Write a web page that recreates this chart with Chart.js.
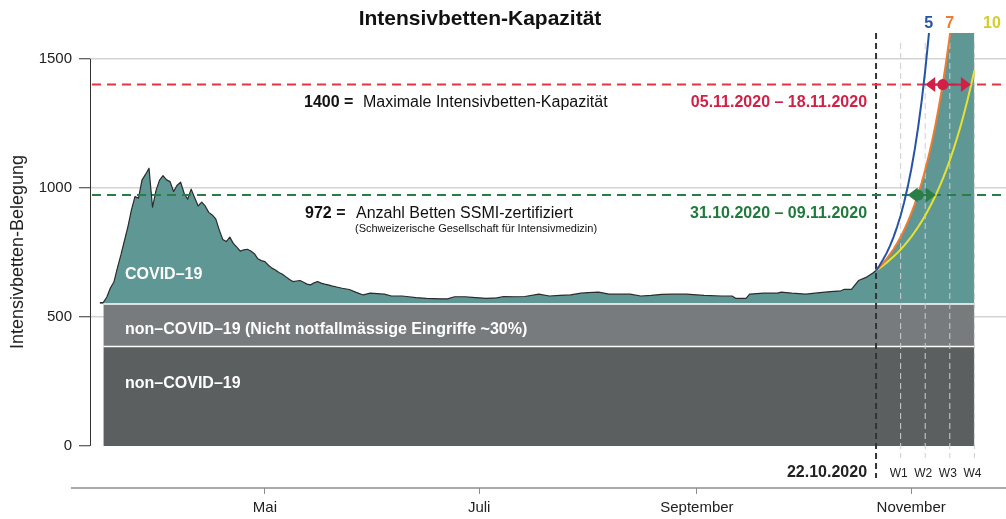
<!DOCTYPE html>
<html>
<head>
<meta charset="utf-8">
<script src="https://cdn.jsdelivr.net/npm/chart.js@4.4.0/dist/chart.umd.min.js"></script>
<style>
  html, body { margin: 0; padding: 0; background: #fff; }
  #wrap { width: 1006px; height: 519px; }
</style>
</head>
<body>
<div id="wrap"><canvas id="icuChart" width="1006" height="519"></canvas></div>
<script>
// =============== DATA ===============
// x = Tag im Jahr 2020 (1. Jan = 0), y = belegte Intensivbetten
const covidDays = [74, 75, 76, 77, 78, 79, 80, 81, 82, 83, 84, 85, 86, 87, 88, 89, 90, 91, 92, 93, 94, 95, 96, 97, 98, 99,
  100, 101, 102, 103, 104, 105, 106, 107, 108, 109, 110, 111, 112, 113, 114, 115, 116, 117, 118, 119, 120, 121, 122, 123,
  124, 125, 126, 127, 128, 129, 130, 131, 132, 133, 134, 135, 136, 137, 138, 139, 140, 142, 143, 145, 147, 149, 151, 153,
  155, 157, 160, 162, 164, 167, 171, 173, 175, 178, 180, 184, 187, 189, 192, 195, 199, 202, 205, 208, 211, 213, 216, 219,
  222, 225, 228, 231, 234, 237, 241, 244, 246, 251, 254, 255, 258, 259, 263, 267, 268, 271, 275, 279, 282, 285, 286, 288,
  290, 292, 294, 295];
const covidBeds = [555, 556, 577, 612, 635, 690, 740, 795, 850, 915, 966, 960, 1030, 1052, 1076, 925, 990, 1030, 1047, 1031,
  1024, 986, 1010, 1022, 979, 956, 995, 962, 930, 945, 930, 905, 895, 880, 837, 800, 792, 809, 785, 770, 755, 760, 762, 755,
  745, 725, 718, 714, 700, 689, 682, 672, 665, 655, 645, 637, 639, 641, 634, 627, 624, 632, 637, 631, 627, 624, 620, 614,
  611, 606, 595, 585, 592, 590, 588, 581, 581, 578, 575, 572, 570, 570, 578, 578, 576, 572, 574, 579, 578, 579, 588, 581,
  583, 585, 592, 594, 596, 588, 588, 588, 581, 583, 587, 588, 588, 585, 583, 581, 581, 572, 572, 588, 592, 592, 596, 592,
  588, 594, 598, 601, 607, 607, 641, 652, 669, 680];

// Prognosen ab 22.10.2020 (Verdopplungszeit 5, 7, 10 Tage)
const projDays = [295, 296, 297, 298, 299, 300, 301, 302, 303, 304, 305, 306, 307, 308, 309, 310, 311, 312, 313, 314,
  315, 316, 317, 318, 319, 320, 321, 322, 323];
const proj5 = [680, 699, 722, 747, 776, 810, 849, 893, 944, 1003, 1070, 1147, 1236, 1338, 1455, 1590, 1745];
const proj7 = [680, 694, 708, 725, 743, 763, 785, 810, 837, 867, 900, 936, 977, 1021, 1070, 1124, 1184, 1250, 1323,
  1403, 1492, 1590, 1698, 1818, 1950, 2095, 2256, 2434, 2630];
const proj10 = [680, 689, 699, 710, 722, 734, 747, 761, 776, 793, 810, 829, 849, 870, 893, 918, 944, 972, 1003, 1035,
  1070, 1107, 1147, 1190, 1236, 1285, 1338, 1395, 1455];
const projLabels = ['5', '7', '10'];
const projLabelDays = [310, 316, 328];

// nicht-COVID Belegung
const bandDays = [75, 323];
const nonCovidBeds = [385, 385];
const electiveBeds = [550, 550];

// Kapazitaeten
const capacityMax = 1400;
const capacitySSMI = 972;
const maxRange = [309, 322];   // 05.11.2020 - 18.11.2020
const maxMid = 314;
const ssmiRange = [304, 312];  // 31.10.2020 - 09.11.2020
const ssmiMid = 307;

const referenceDay = 295;      // 22.10.2020
const weekDays = [302, 309, 316, 323];
const weekLabels = ['W1', 'W2', 'W3', 'W4'];

const monthTicks = [121, 182, 244, 305];
const monthLabels = ['Mai', 'Juli', 'September', 'November'];
const yTicks = [0, 500, 1000, 1500];

// =============== HELPERS ===============
const FONT = "'Liberation Sans', Arial, Helvetica, sans-serif";
const toPoints = (days, vals) => vals.map((v, i) => ({ x: days[i], y: v }));

const colTeal = '#5f9795';
const colMidGray = '#777b7d';
const colDarkGray = '#5b5f60';
const colRed = '#e2363f';
const colRedDark = '#d21f45';
const colGreen = '#2b7d48';
const colGreenText = '#1f7a3b';

function drawArrow(ctx, x1, x2, xm, y, color) {
    ctx.strokeStyle = color;
    ctx.fillStyle = color;
    ctx.setLineDash([]);
    ctx.lineWidth = 2;
    ctx.beginPath();
    ctx.moveTo(x1 + 8, y);
    ctx.lineTo(x2 - 8, y);
    ctx.stroke();
    // Pfeilspitzen
    ctx.beginPath();
    ctx.moveTo(x1, y); ctx.lineTo(x1 + 10, y - 7.5); ctx.lineTo(x1 + 10, y + 7.5); ctx.closePath();
    ctx.fill();
    ctx.beginPath();
    ctx.moveTo(x2, y); ctx.lineTo(x2 - 10, y - 7.5); ctx.lineTo(x2 - 10, y + 7.5); ctx.closePath();
    ctx.fill();
    ctx.beginPath();
    ctx.arc(xm, y, 5.5, 0, Math.PI * 2);
    ctx.fill();
}

// =============== OVERLAY PLUGIN ===============
const overlay = {
    id: 'overlay',
    // Referenzlinien ueber den Flaechen, aber unter den Prognose-Linien
    afterDatasetDraw(chart, args) {
        if (args.index !== 3) return;
        const { ctx, chartArea: a, scales: { x, y } } = chart;
        ctx.save();

        ctx.setLineDash([6, 4]);
        ctx.lineWidth = 1;
        ctx.strokeStyle = '#cfcfcf';
        weekDays.forEach(d => {
            const px = x.getPixelForValue(d);
            ctx.beginPath(); ctx.moveTo(px, a.top + 10); ctx.lineTo(px, a.bottom - 30); ctx.stroke();
        });

        ctx.strokeStyle = '#333';
        ctx.lineWidth = 2;
        const rx = x.getPixelForValue(referenceDay);
        ctx.beginPath(); ctx.moveTo(rx, a.top); ctx.lineTo(rx, a.bottom - 10); ctx.stroke();

        ctx.setLineDash([9, 6]);
        ctx.lineWidth = 2;
        ctx.strokeStyle = colRed;
        let py = y.getPixelForValue(capacityMax);
        ctx.beginPath(); ctx.moveTo(a.left + 2, py); ctx.lineTo(a.right, py); ctx.stroke();
        ctx.strokeStyle = colGreen;
        py = y.getPixelForValue(capacitySSMI);
        ctx.beginPath(); ctx.moveTo(a.left + 2, py); ctx.lineTo(a.right, py); ctx.stroke();

        ctx.restore();
    },
    afterDraw(chart) {
        const { ctx, chartArea: a, scales: { x, y } } = chart;
        ctx.save();

        // Achsen im R-Stil
        ctx.setLineDash([]);
        ctx.strokeStyle = '#333';
        ctx.lineWidth = 1;
        ctx.beginPath();
        ctx.moveTo(a.left + 0.5, y.getPixelForValue(0));
        ctx.lineTo(a.left + 0.5, y.getPixelForValue(1500));
        ctx.stroke();
        ctx.strokeStyle = '#8c8c8c';
        ctx.lineWidth = 1.5;
        ctx.beginPath();
        ctx.moveTo(a.left - 19, a.bottom);
        ctx.lineTo(a.right, a.bottom);
        ctx.stroke();

        // Pfeile fuer die Zeitfenster
        drawArrow(ctx, x.getPixelForValue(maxRange[0]), x.getPixelForValue(maxRange[1]),
            x.getPixelForValue(maxMid), y.getPixelForValue(capacityMax), colRedDark);
        drawArrow(ctx, x.getPixelForValue(ssmiRange[0]), x.getPixelForValue(ssmiRange[1]),
            x.getPixelForValue(ssmiMid), y.getPixelForValue(capacitySSMI), colGreen);

        // Titel
        ctx.fillStyle = '#111';
        ctx.textAlign = 'center';
        ctx.textBaseline = 'alphabetic';
        ctx.font = 'bold 21px ' + FONT;
        ctx.fillText('Intensivbetten-Kapazität', 480, 25);

        // y-Achsentitel
        ctx.save();
        ctx.translate(23, 252);
        ctx.rotate(-Math.PI / 2);
        ctx.font = '18px ' + FONT;
        ctx.fillStyle = '#222';
        ctx.fillText('Intensivbetten-Belegung', 0, 0);
        ctx.restore();

        // Kapazitaets-Beschriftungen
        const rx = x.getPixelForValue(referenceDay);
        const yMax = y.getPixelForValue(capacityMax) + 22;
        const ySsmi = y.getPixelForValue(capacitySSMI) + 22.5;
        ctx.textAlign = 'left';
        ctx.fillStyle = '#111';
        ctx.font = 'bold 16px ' + FONT;
        ctx.fillText('1400 =', a.left + 214, yMax);
        ctx.fillText('972 =', a.left + 215, ySsmi);
        ctx.font = '16px ' + FONT;
        ctx.fillText('Maximale Intensivbetten-Kapazität', a.left + 273, yMax);
        ctx.fillText('Anzahl Betten SSMI-zertifiziert', a.left + 266, ySsmi);
        ctx.font = '11px ' + FONT;
        ctx.fillText('(Schweizerische Gesellschaft für Intensivmedizin)', a.left + 265, ySsmi + 14);

        ctx.textAlign = 'right';
        ctx.font = 'bold 16px ' + FONT;
        ctx.fillStyle = colRedDark;
        ctx.fillText('05.11.2020 – 18.11.2020', rx - 9, yMax);
        ctx.fillStyle = colGreenText;
        ctx.fillText('31.10.2020 – 09.11.2020', rx - 9, ySsmi);

        // Flaechen-Beschriftungen
        ctx.textAlign = 'left';
        ctx.fillStyle = '#ffffff';
        ctx.font = 'bold 16px ' + FONT;
        ctx.fillText('COVID–19', a.left + 35, 279);
        ctx.fillText('non–COVID–19 (Nicht notfallmässige Eingriffe ~30%)', a.left + 35, 334);
        ctx.fillText('non–COVID–19', a.left + 35, 388);

        // Datum und Wochen
        ctx.fillStyle = '#222';
        ctx.textAlign = 'right';
        ctx.fillText('22.10.2020', rx - 9, 477);
        ctx.textAlign = 'center';
        ctx.font = '12px ' + FONT;
        weekDays.forEach((d, i) => {
            ctx.fillText(weekLabels[i], x.getPixelForValue(d) - 2, 477);
        });

        // Verdopplungszeiten
        const projColors = ['#2554a6', '#f07a30', '#d4cd2c'];
        ctx.font = 'bold 16px ' + FONT;
        projLabels.forEach((t, i) => {
            ctx.fillStyle = projColors[i];
            ctx.fillText(t, x.getPixelForValue(projLabelDays[i]), 28);
        });

        ctx.restore();
    }
};

// =============== CHART ===============
const ctx = document.getElementById('icuChart').getContext('2d');
const icuChart = new Chart(ctx, {
    type: 'line',
    data: {
        datasets: [
            {   // 0: Verdopplung alle 5 Tage
                data: toPoints(projDays, proj5),
                borderColor: '#2554a6', borderWidth: 2, fill: false
            },
            {   // 1: Verdopplung alle 7 Tage
                data: toPoints(projDays, proj7),
                borderColor: '#f07a30', borderWidth: 2, fill: false
            },
            {   // 2: Verdopplung alle 10 Tage
                data: toPoints(projDays, proj10),
                borderColor: '#e8e22e', borderWidth: 2, fill: false
            },
            {   // 3: non-COVID
                data: toPoints(bandDays, nonCovidBeds),
                borderColor: '#ffffff', borderWidth: 1.5,
                backgroundColor: colDarkGray, fill: 'origin'
            },
            {   // 4: nicht notfallmaessige Eingriffe
                data: toPoints(bandDays, electiveBeds),
                borderColor: '#ffffff', borderWidth: 1.5,
                backgroundColor: colMidGray, fill: { value: 385 }
            },
            {   // 5: COVID-19 (Verlauf + 7-Tage-Prognose)
                data: toPoints(covidDays, covidBeds).concat(toPoints(projDays.slice(1), proj7.slice(1))),
                borderColor: '#2b2b2b', borderWidth: 1.2,
                backgroundColor: colTeal, fill: { value: 550 },
                segment: {
                    borderColor: c => c.p0.parsed.x >= referenceDay ? 'rgba(0,0,0,0)' : '#2b2b2b'
                }
            }
        ]
    },
    options: {
        responsive: false,
        animation: false,
        devicePixelRatio: 1,
        layout: { padding: { top: 33, right: 0, left: 0, bottom: 0 } },
        elements: {
            point: { radius: 0 },
            line: { tension: 0, borderJoinStyle: 'round' }
        },
        plugins: {
            legend: { display: false },
            tooltip: { enabled: false },
            title: { display: false }
        },
        scales: {
            x: {
                type: 'linear',
                min: 71.2,
                max: 332,
                afterBuildTicks: s => { s.ticks = monthTicks.map(v => ({ value: v })); },
                afterFit: s => { s.height = 31; },
                border: { display: false },
                grid: { drawOnChartArea: false, tickLength: 6, tickColor: '#8c8c8c', tickWidth: 1 },
                ticks: {
                    autoSkip: false,
                    maxRotation: 0,
                    padding: 5,
                    color: '#222',
                    font: { family: FONT, size: 15 },
                    callback: (v, i) => monthLabels[i]
                }
            },
            y: {
                min: -163,
                max: 1600,
                afterBuildTicks: s => { s.ticks = yTicks.map(v => ({ value: v })); },
                afterFit: s => { s.width = 90; },
                border: { display: false },
                grid: {
                    color: c => (c.tick && c.tick.value === 0) ? 'rgba(0,0,0,0)' : '#d4d4d4',
                    lineWidth: 1.5,
                    tickColor: '#333',
                    tickWidth: 1,
                    tickLength: 11
                },
                ticks: {
                    padding: 7,
                    color: '#222',
                    font: { family: FONT, size: 15 },
                    callback: v => String(v)
                }
            }
        }
    },
    plugins: [overlay]
});
</script>
</body>
</html>
